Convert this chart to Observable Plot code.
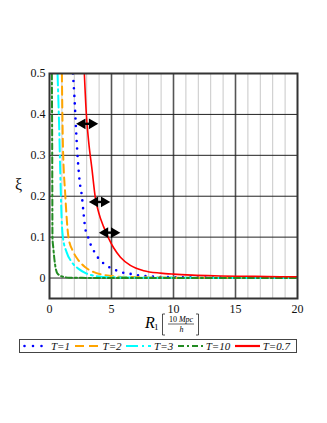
<!DOCTYPE html>
<html><head><meta charset="utf-8">
<script src="https://cdn.jsdelivr.net/npm/d3@7"></script>
<script src="https://cdn.jsdelivr.net/npm/@observablehq/plot@0.6"></script>
<style>
body{margin:0;background:#fff;}
#wrap{position:relative;width:327px;height:423px;font-family:"Liberation Serif",serif;color:#111;}
#plot{position:absolute;left:0;top:0;}
#plot svg text{font-family:"Liberation Serif",serif !important;}
#ylab{position:absolute;left:15px;top:176px;font-size:16px;font-family:"Liberation Serif",serif;}
#xlab{position:absolute;left:0;top:0;}
#legend{position:absolute;left:19px;top:339px;width:278px;height:14px;border:1.5px solid #444;display:flex;align-items:center;padding-left:3px;box-sizing:border-box;font-family:"Liberation Serif",serif;font-style:italic;font-size:11px;white-space:nowrap;overflow:hidden;}
#legend .it{display:flex;align-items:center;}
#legend svg{display:block;}
#legend span{margin-left:3px;margin-right:4.5px;}
</style></head><body><div id="wrap"><div id="plot"></div><div id="ylab">ξ</div><div id="legend"></div>
<svg id="xlab" width="327" height="423" style="pointer-events:none">
<text x="145" y="328" font-family="Liberation Serif" font-style="italic" font-size="16">R</text>
<text x="154" y="330" font-family="Liberation Serif" font-size="9">1</text>
<path d="M165,314 L162.5,314 L162.5,335 L165,335" fill="none" stroke="#222" stroke-width="0.8"/>
<path d="M196,314 L198.5,314 L198.5,335 L196,335" fill="none" stroke="#222" stroke-width="0.8"/>
<text x="181" y="321.5" text-anchor="middle" font-family="Liberation Serif" font-size="8"><tspan>10 </tspan><tspan font-style="italic">Mpc</tspan></text>
<line x1="168" x2="194" y1="324" y2="324" stroke="#222" stroke-width="0.7"/>
<text x="181.5" y="332" text-anchor="middle" font-family="Liberation Serif" font-style="italic" font-size="8">h</text>
</svg>
</div>
<script>
// Series T=1 (blue dotted)
const x_T1 = [1.89, 2.0, 2.16, 2.27, 2.43, 2.62, 2.75, 2.89, 3.07, 3.29, 3.56, 3.88, 4.31, 4.85, 5.45, 6.06, 6.71, 7.33, 8.0, 8.6, 9.2, 10, 11, 12, 14, 16, 18, 20];
const y_T1 = [0.5, 0.448, 0.352, 0.295, 0.237, 0.198, 0.157, 0.12, 0.104, 0.084, 0.067, 0.051, 0.037, 0.026, 0.018, 0.012, 0.0095, 0.006, 0.004, 0.003, 0.0025, 0.002, 0.0017, 0.0014, 0.0011, 0.0009, 0.0007, 0.0006];
// Series T=2 (orange dashed)
const x_T2 = [1.0, 1.03, 1.08, 1.27, 1.54, 1.92, 2.32, 2.86, 3.53, 4.34, 5.28, 6.5, 8, 10, 13, 16, 20];
const y_T2 = [0.5, 0.42, 0.328, 0.204, 0.098, 0.064, 0.044, 0.027, 0.015, 0.008, 0.004, 0.0025, 0.0015, 0.001, 0.0007, 0.0005, 0.0003];
// Series T=3 (cyan dash-dot)
const x_T3 = [0.65, 0.78, 0.9, 1.0, 1.08, 1.37, 1.77, 2.32, 2.99, 3.94, 5, 7, 10, 14, 20];
const y_T3 = [0.5, 0.368, 0.221, 0.13, 0.1, 0.064, 0.04, 0.023, 0.011, 0.004, 0.002, 0.001, 0.0006, 0.0004, 0.0002];
// Series T=10 (green dash-dot)
const x_T10 = [0.19, 0.22, 0.24, 0.3, 0.44, 0.65, 1.1, 1.6, 3, 6, 10, 15, 20];
const y_T10 = [0.5, 0.3, 0.098, 0.076, 0.035, 0.011, 0.003, 0.001, 0.0004, 0.0002, 0.0001, 0.0001, 0.0001];
// Series T=0.7 (red solid)
const x_T07 = [2.81, 2.97, 3.15, 3.43, 3.69, 3.96, 4.37, 4.77, 5.17, 5.72, 6.52, 7.6, 8.95, 10.0, 11.5, 13.3, 16.5, 20];
const y_T07 = [0.5, 0.401, 0.336, 0.265, 0.198, 0.161, 0.125, 0.097, 0.074, 0.051, 0.031, 0.018, 0.012, 0.0095, 0.0072, 0.0055, 0.004, 0.003];

// Double arrows
const arrowLeft = [2.41, 3.43, 4.24];
const arrowRight = [3.67, 4.64, 5.45];
const arrowY = [0.377, 0.186, 0.111];

// Ticks & grid
const xTicks = [0, 5, 10, 15, 20];
const yTicks = [0, 0.1, 0.2, 0.3, 0.4, 0.5];
const xMinorGrid = [1, 2, 3, 4, 6, 7, 8, 9, 11, 12, 13, 14, 16, 17, 18, 19];
const xMajorGrid = [5, 10, 15];

const seriesNames = ["T=1", "T=2", "T=3", "T=10", "T=0.7"];
const seriesX = [x_T1, x_T2, x_T3, x_T10, x_T07];
const seriesY = [y_T1, y_T2, y_T3, y_T10, y_T07];
const styles = {
  "T=1":  {stroke: "#0000ff", strokeWidth: 2.6, strokeDasharray: "0 7.5", strokeLinecap: "round"},
  "T=2":  {stroke: "#ffa500", strokeWidth: 2, strokeDasharray: "8 5"},
  "T=3":  {stroke: "#00ffff", strokeWidth: 2, strokeDasharray: "12 4 2 4"},
  "T=10": {stroke: "#228b22", strokeWidth: 2, strokeDasharray: "6 3 2 3"},
  "T=0.7":{stroke: "#ff0000", strokeWidth: 1.6, strokeDasharray: null}
};

const lineMarks = seriesNames.map((name, i) => {
  const data = seriesX[i].map((x, j) => ({x, y: seriesY[i][j]}));
  const s = styles[name];
  const opts = {x: "x", y: "y", curve: "monotone-x", clip: true, stroke: s.stroke, strokeWidth: s.strokeWidth};
  if (s.strokeDasharray) opts.strokeDasharray = s.strokeDasharray;
  if (s.strokeLinecap) opts.strokeLinecap = s.strokeLinecap;
  return Plot.line(data, opts);
});

const arrows = arrowY.map((y, i) => ({x1: arrowLeft[i], x2: arrowRight[i], y}));

const chart = Plot.plot({
  width: 327,
  height: 320,
  marginTop: 73,
  marginBottom: 22,
  marginLeft: 49,
  marginRight: 30,
  style: "font-family: 'Liberation Serif', serif; font-size: 12px; color: #111; background: transparent;",
  x: {domain: [0, 20], ticks: xTicks, tickSize: 0, tickPadding: 6, label: null, tickFormat: d => String(d)},
  y: {domain: [-0.05, 0.5], ticks: yTicks, tickSize: 0, tickPadding: 4, label: null, tickFormat: d => String(d)},
  marks: [
    Plot.ruleX(xMinorGrid, {stroke: "#c8c8c8", strokeWidth: 1}),
    Plot.ruleX(xMajorGrid, {stroke: "#555", strokeWidth: 1.6}),
    Plot.ruleY(yTicks, {stroke: "#222", strokeWidth: 1}),
    ...lineMarks,
    Plot.link(arrows, {x1: "x1", x2: "x2", y1: "y", y2: "y", stroke: "#000", strokeWidth: 2.4}),
    Plot.dot(arrows, {x: "x1", y: "y", symbol: "triangle", rotate: -90, r: 4, fill: "#000", stroke: null, dx: 3}),
    Plot.dot(arrows, {x: "x2", y: "y", symbol: "triangle", rotate: 90, r: 4, fill: "#000", stroke: null, dx: -3}),
    Plot.frame({stroke: "#333", strokeWidth: 2})
  ]
});
document.getElementById("plot").appendChild(chart);

// Legend
const legend = document.getElementById("legend");
seriesNames.forEach(name => {
  const s = styles[name];
  const it = document.createElement("div");
  it.className = "it";
  const svgNS = "http://www.w3.org/2000/svg";
  const svg = document.createElementNS(svgNS, "svg");
  svg.setAttribute("width", "25"); svg.setAttribute("height", "8");
  const ln = document.createElementNS(svgNS, "line");
  ln.setAttribute("x1", name === "T=1" ? "1.5" : "0"); ln.setAttribute("x2", "25");
  ln.setAttribute("y1", "4"); ln.setAttribute("y2", "4");
  ln.setAttribute("stroke", s.stroke);
  ln.setAttribute("stroke-width", name === "T=1" ? 2.6 : 2.2);
  if (s.strokeDasharray) ln.setAttribute("stroke-dasharray", name === "T=1" ? "0 8.5" : (name === "T=2" ? "9 5" : s.strokeDasharray));
  if (s.strokeLinecap) ln.setAttribute("stroke-linecap", s.strokeLinecap);
  svg.appendChild(ln);
  const sp = document.createElement("span");
  sp.textContent = name;
  it.appendChild(svg); it.appendChild(sp);
  legend.appendChild(it);
});
</script>
</body></html>
